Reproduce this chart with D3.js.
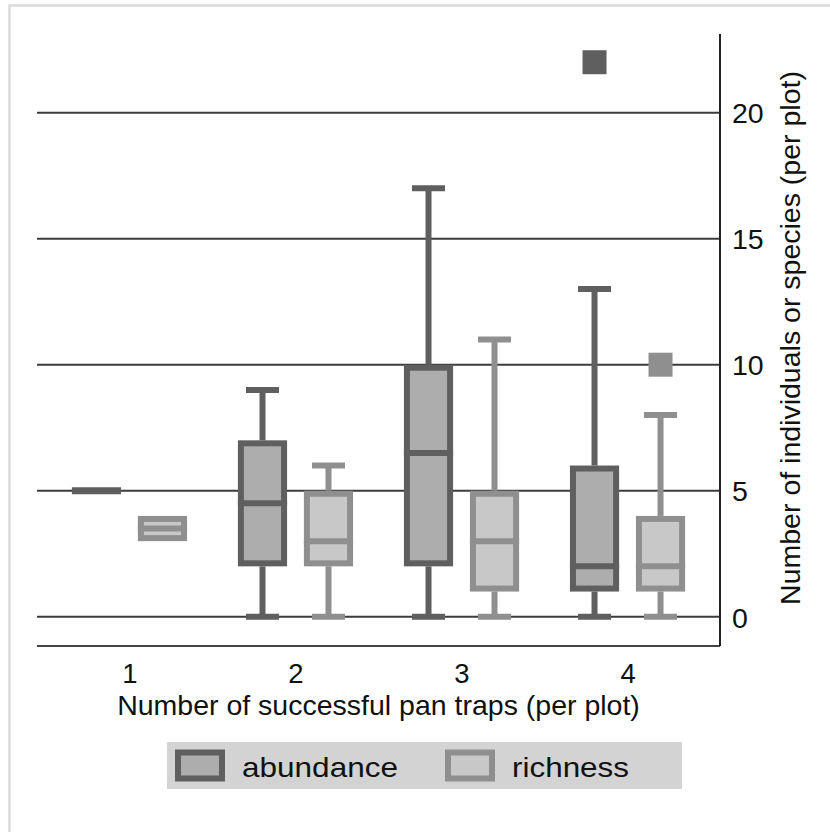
<!DOCTYPE html>
<html>
<head>
<meta charset="utf-8">
<script src="https://cdn.jsdelivr.net/npm/d3@7"></script>
<style>
  html, body { margin: 0; padding: 0; background: #fff; }
  svg { display: block; }
  text { font-family: "Liberation Sans", Arial, sans-serif; fill: #111; }
</style>
</head>
<body>
<svg id="chart" width="830" height="832"></svg>
<script>
// ---------------- data ----------------
const groups = ["1", "2", "3", "4"];
const series = ["abundance", "richness"];
const yTicks = [0, 5, 10, 15, 20];

const abundanceQ1     = [5, 2, 2, 1];
const abundanceMedian = [5, 4.5, 6.5, 2];
const abundanceQ3     = [5, 7, 10, 6];
const abundanceLow    = [5, 0, 0, 0];
const abundanceHigh   = [5, 9, 17, 13];
const abundanceOutliers = [[], [], [], [22]];

const richnessQ1     = [3, 2, 1, 1];
const richnessMedian = [3.5, 3, 3, 2];
const richnessQ3     = [4, 5, 5, 4];
const richnessLow    = [3, 0, 0, 0];
const richnessHigh   = [4, 6, 11, 8];
const richnessOutliers = [[], [], [], [10]];

const xTitle = "Number of successful pan traps (per plot)";
const yTitle = "Number of individuals or species (per plot)";

// ---------------- build table ----------------
const rows = [];
groups.forEach((g, i) => {
  rows.push({ group: g, series: "abundance", q1: abundanceQ1[i], med: abundanceMedian[i], q3: abundanceQ3[i], lo: abundanceLow[i], hi: abundanceHigh[i], out: abundanceOutliers[i] });
  rows.push({ group: g, series: "richness", q1: richnessQ1[i], med: richnessMedian[i], q3: richnessQ3[i], lo: richnessLow[i], hi: richnessHigh[i], out: richnessOutliers[i] });
});

const style = {
  abundance: { stroke: "#5f5f5f", fill: "#adadad" },
  richness:  { stroke: "#8f8f8f", fill: "#c8c8c8" }
};

// ---------------- layout ----------------
const svg = d3.select("#chart");
const plotLeft = 37, plotRight = 720, plotTop = 34, plotBottom = 646;
const fontSize = 28.5;
const tickFont = 27.5;

svg.append("rect").attr("x", 0).attr("y", 0).attr("width", 830).attr("height", 832).attr("fill", "#fff");
svg.append("rect").attr("x", 9.5).attr("y", 5.5).attr("width", 840).attr("height", 850)
  .attr("fill", "none").attr("stroke", "#dadada").attr("stroke-width", 2.5);

const x = d3.scalePoint().domain(groups).range([plotLeft, plotRight]).padding(0.557);
const xSub = d3.scaleBand().domain(series).range([-66, 66]).paddingInner(0);
const boxW = xSub.bandwidth() * 0.745;
const capW = 33;
const lw = 6;

const y = d3.scaleLinear().domain([-1.16, 23.12]).range([plotBottom, plotTop]);

// gridlines
svg.append("g").selectAll("line").data(yTicks).join("line")
  .attr("x1", plotLeft).attr("x2", plotRight)
  .attr("y1", d => y(d)).attr("y2", d => y(d))
  .attr("stroke", "#3c3c3c").attr("stroke-width", 2);

// boxes
const gBox = svg.append("g");
rows.forEach(r => {
  const cx = x(r.group) + xSub(r.series) + xSub.bandwidth() / 2;
  const st = style[r.series];
  const g = gBox.append("g");
  // whiskers
  if (r.hi > r.q3) {
    g.append("line").attr("x1", cx).attr("x2", cx).attr("y1", y(r.q3)).attr("y2", y(r.hi))
      .attr("stroke", st.stroke).attr("stroke-width", lw);
    g.append("line").attr("x1", cx - capW / 2).attr("x2", cx + capW / 2).attr("y1", y(r.hi)).attr("y2", y(r.hi))
      .attr("stroke", st.stroke).attr("stroke-width", lw);
  }
  if (r.lo < r.q1) {
    g.append("line").attr("x1", cx).attr("x2", cx).attr("y1", y(r.q1)).attr("y2", y(r.lo))
      .attr("stroke", st.stroke).attr("stroke-width", lw);
    g.append("line").attr("x1", cx - capW / 2).attr("x2", cx + capW / 2).attr("y1", y(r.lo)).attr("y2", y(r.lo))
      .attr("stroke", st.stroke).attr("stroke-width", lw);
  }
  // box (stroke drawn inside the value bounds)
  const top = y(r.q3), bot = y(r.q1);
  if (bot - top > lw) {
    g.append("rect")
      .attr("x", cx - boxW / 2 + lw / 2).attr("y", top + lw / 2)
      .attr("width", boxW - lw).attr("height", bot - top - lw)
      .attr("fill", st.fill).attr("stroke", st.stroke).attr("stroke-width", lw);
  }
  // median
  g.append("line").attr("x1", cx - boxW / 2).attr("x2", cx + boxW / 2)
    .attr("y1", y(r.med)).attr("y2", y(r.med))
    .attr("stroke", st.stroke).attr("stroke-width", bot - top > lw ? lw : 7);
  // outliers
  g.selectAll("rect.out").data(r.out).join("rect").attr("class", "out")
    .attr("x", cx - 12).attr("y", d => y(d) - 12).attr("width", 24).attr("height", 24)
    .attr("fill", st.stroke);
});

// axes lines
svg.append("line").attr("x1", plotLeft).attr("x2", plotRight).attr("y1", plotBottom).attr("y2", plotBottom)
  .attr("stroke", "#444").attr("stroke-width", 2);
svg.append("line").attr("x1", plotRight).attr("x2", plotRight).attr("y1", plotTop).attr("y2", plotBottom)
  .attr("stroke", "#222").attr("stroke-width", 2);

// y axis labels (right)
const yAxis = svg.append("g").attr("transform", `translate(${plotRight},0)`)
  .call(d3.axisRight(y).tickValues(yTicks).tickSize(0).tickPadding(12));
yAxis.select(".domain").remove();
yAxis.selectAll("text").attr("font-size", fontSize).attr("dy", "0.36em")
  .style("font-family", '"Liberation Sans", Arial, sans-serif').attr("fill", "#111");

// x axis labels
const xAxis = svg.append("g").attr("transform", `translate(0,${plotBottom})`)
  .call(d3.axisBottom(x).tickSize(0).tickPadding(17));
xAxis.select(".domain").remove();
xAxis.selectAll("text").attr("font-size", tickFont)
  .style("font-family", '"Liberation Sans", Arial, sans-serif').attr("fill", "#111");

// titles
svg.append("text").attr("x", (plotLeft + plotRight) / 2).attr("y", 715)
  .attr("text-anchor", "middle").attr("font-size", fontSize).text(xTitle);
svg.append("text").attr("transform", `translate(800,338) rotate(-90)`)
  .attr("text-anchor", "middle").attr("font-size", fontSize).text(yTitle);

// legend
const lg = svg.append("g");
lg.append("rect").attr("x", 167).attr("y", 742).attr("width", 515).attr("height", 47).attr("fill", "#d3d3d3");
const legendX = d3.scaleOrdinal().domain(series).range([175, 445]);
const legendTextW = { abundance: 156, richness: 117 };
series.forEach(s => {
  const lx = legendX(s);
  lg.append("rect").attr("x", lx + 3).attr("y", 749.5 + 3).attr("width", 50 - 6).attr("height", 32 - 6)
    .attr("fill", style[s].fill).attr("stroke", style[s].stroke).attr("stroke-width", lw);
  lg.append("text").attr("x", lx + 67).attr("y", 777).attr("font-size", fontSize)
    .attr("textLength", legendTextW[s]).attr("lengthAdjust", "spacingAndGlyphs").text(s);
});
</script>
</body>
</html>
